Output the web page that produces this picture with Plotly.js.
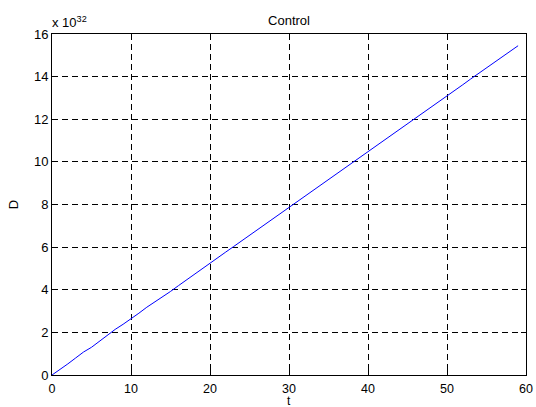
<!DOCTYPE html>
<html><head><meta charset="utf-8">
<script src="https://cdn.plot.ly/plotly-3.0.1.min.js"></script>
<style>html,body{margin:0;padding:0;background:#fff}</style>
</head><body>
<div id="chart" style="width:536px;height:407px"></div>
<script>
const t = [0,1,2,3,4,5,6,7,8,9,10,11,12,13,14,15,16,17,18,19,20,21,22,23,24,25,26,27,28,29,30,31,32,33,34,35,36,37,38,39,40,41,42,43,44,45,46,47,48,49,50,51,52,53,54,55,56,57,58,59];
const D = [0,0.25,0.52,0.80,1.08,1.30,1.58,1.88,2.14,2.38,2.62,2.90,3.18,3.42,3.68,3.92,4.19,4.46,4.72,4.98,5.25,5.50,5.77,6.03,6.29,6.55,6.81,7.07,7.33,7.60,7.88,8.12,8.40,8.65,8.92,9.18,9.44,9.70,9.96,10.22,10.48,10.74,11.00,11.27,11.53,11.79,12.05,12.32,12.58,12.84,13.10,13.36,13.62,13.89,14.15,14.40,14.66,14.92,15.18,15.45];
const xTicks = [0,10,20,30,40,50,60];
const yTicks = [0,2,4,6,8,10,12,14,16];
const scaleLabel = 'x 10<sup>32</sup>';
const xLabel = 't';

const font = {family: 'Liberation Sans, Arial, sans-serif', size: 13, color: '#000'};
const xTickFont = {family: 'Liberation Sans, Arial, sans-serif', size: 12.5, color: '#000'};
const titleFont = {family: 'Liberation Sans, Arial, sans-serif', size: 13, color: '#000'};
const xLabelFont = {family: 'Liberation Sans, Arial, sans-serif', size: 12, color: '#000'};
const axisCommon = {
  showline: true, linecolor: '#000', linewidth: 1, mirror: 'allticks',
  ticks: 'inside', ticklen: 5, tickcolor: '#000',
  showgrid: true, gridcolor: '#000', gridwidth: 1, griddash: '6px,4px',
  zeroline: false, tickfont: font, fixedrange: true
};
Plotly.newPlot('chart', [{
  x: t, y: D, type: 'scatter', mode: 'lines',
  line: {color: '#0000ff', width: 1}, hoverinfo: 'skip'
}], {
  width: 536, height: 407,
  margin: {l: 52, r: 10, t: 34, b: 32},
  paper_bgcolor: '#fff', plot_bgcolor: '#fff',
  showlegend: false, font: font,
  title: {text: 'Control', font: titleFont, x: 0.5, xref: 'paper', y: 1, yref: 'paper', yanchor: 'bottom', pad: {b: 9}},
  xaxis: Object.assign({}, axisCommon, {
    range: [0, 60], tickvals: xTicks, ticktext: xTicks.map(String),
    tickfont: xTickFont, ticklabelstandoff: 2
  }),
  yaxis: Object.assign({}, axisCommon, {
    range: [0, 16], tickvals: yTicks, ticktext: yTicks.map(String),
    title: {text: 'D', font: titleFont, standoff: 12}
  }),
  annotations: [{
    text: scaleLabel, xref: 'paper', yref: 'paper', x: 0, y: 1,
    xanchor: 'left', yanchor: 'bottom', showarrow: false, font: font, yshift: 2, xshift: -2
  }, {
    text: xLabel, xref: 'paper', yref: 'paper', x: 0.5, y: 0,
    xanchor: 'center', yanchor: 'middle', showarrow: false, font: xLabelFont, yshift: -26, borderpad: 0
  }]
}, {displayModeBar: false, staticPlot: true});
</script>
</body></html>
